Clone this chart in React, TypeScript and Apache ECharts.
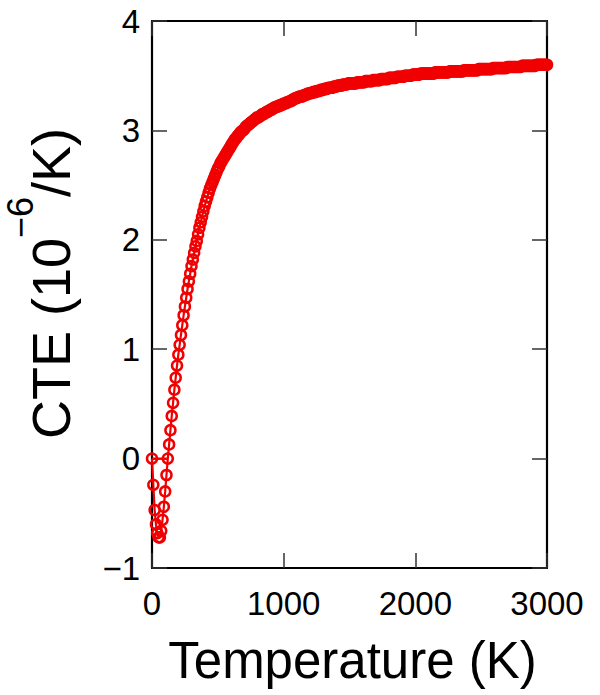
import React, { useEffect, useRef } from "react";
import * as echarts from "echarts";

// Temperature grid (K): one reading every 10 K from 0 to 3000
const tempStart = 0;
const tempStep = 10;

// CTE (10^-6 /K), one value per temperature step
const cteValues: number[] = [
  0.00, -0.24, -0.47, -0.60, -0.68, -0.72, -0.72, -0.66, -0.56, -0.44,
  -0.30, -0.15, 0.00, 0.13, 0.26, 0.39, 0.51, 0.63, 0.74, 0.85,
  0.95, 1.04, 1.13, 1.22, 1.31, 1.39, 1.47, 1.55, 1.62, 1.69,
  1.76, 1.82, 1.88, 1.94, 1.99, 2.05, 2.11, 2.16, 2.21, 2.26,
  2.31, 2.35, 2.39, 2.43, 2.47, 2.50, 2.53, 2.56, 2.59, 2.62,
  2.65, 2.67, 2.70, 2.72, 2.74, 2.76, 2.78, 2.80, 2.82, 2.84,
  2.86, 2.88, 2.90, 2.92, 2.93, 2.95, 2.96, 2.98, 2.99, 3.00,
  3.01, 3.03, 3.04, 3.05, 3.06, 3.07, 3.08, 3.09, 3.10, 3.11,
  3.12, 3.12, 3.13, 3.14, 3.15, 3.15, 3.16, 3.17, 3.17, 3.18,
  3.19, 3.19, 3.20, 3.21, 3.21, 3.22, 3.22, 3.23, 3.23, 3.24,
  3.24, 3.25, 3.25, 3.26, 3.26, 3.27, 3.27, 3.28, 3.29, 3.29,
  3.30, 3.30, 3.31, 3.31, 3.31, 3.32, 3.32, 3.33, 3.33, 3.34,
  3.34, 3.34, 3.35, 3.35, 3.35, 3.36, 3.36, 3.36, 3.37, 3.37,
  3.37, 3.38, 3.38, 3.38, 3.39, 3.39, 3.39, 3.39, 3.40, 3.40,
  3.40, 3.41, 3.41, 3.41, 3.41, 3.42, 3.42, 3.42, 3.42, 3.43,
  3.43, 3.43, 3.43, 3.43, 3.43, 3.43, 3.44, 3.44, 3.44, 3.44,
  3.44, 3.44, 3.45, 3.45, 3.45, 3.45, 3.45, 3.45, 3.46, 3.46,
  3.46, 3.46, 3.46, 3.46, 3.47, 3.47, 3.47, 3.47, 3.47, 3.47,
  3.48, 3.48, 3.48, 3.48, 3.48, 3.48, 3.49, 3.49, 3.49, 3.49,
  3.49, 3.49, 3.50, 3.50, 3.50, 3.50, 3.50, 3.50, 3.51, 3.51,
  3.51, 3.51, 3.51, 3.51, 3.52, 3.52, 3.52, 3.52, 3.52, 3.52,
  3.52, 3.52, 3.52, 3.52, 3.52, 3.53, 3.53, 3.53, 3.53, 3.53,
  3.53, 3.53, 3.53, 3.53, 3.53, 3.53, 3.54, 3.54, 3.54, 3.54,
  3.54, 3.54, 3.54, 3.54, 3.54, 3.54, 3.54, 3.55, 3.55, 3.55,
  3.55, 3.55, 3.55, 3.55, 3.55, 3.55, 3.55, 3.55, 3.56, 3.56,
  3.56, 3.56, 3.56, 3.56, 3.56, 3.56, 3.56, 3.56, 3.56, 3.57,
  3.57, 3.57, 3.57, 3.57, 3.57, 3.57, 3.57, 3.57, 3.57, 3.57,
  3.58, 3.58, 3.58, 3.58, 3.58, 3.58, 3.58, 3.58, 3.58, 3.58,
  3.58, 3.59, 3.59, 3.59, 3.59, 3.59, 3.59, 3.59, 3.59, 3.59,
  3.59, 3.59, 3.60, 3.60, 3.60, 3.60, 3.60, 3.60, 3.60, 3.60,
  3.60,
];

// The short horizontal segment drawn at CTE = 0 near T = 0
const zeroLinkTemps = [0, 120];
const zeroLinkValues = [0, 0];

const xTicks = [0, 1000, 2000, 3000];
const yTicks = [-1, 0, 1, 2, 3, 4];

const FONT = "Liberation Sans, Arial, Helvetica, sans-serif";
const RED = "#f00000";

const fmt = (v: number) => (v < 0 ? "\u2212" + Math.abs(v) : String(v));

export default function App() {
  const ref = useRef<HTMLDivElement>(null);
  useEffect(() => {
    if (!ref.current) return;
    const chart = echarts.init(ref.current, undefined, { renderer: "svg" });
    const mainData = cteValues.map((v, i) => [tempStart + i * tempStep, v]);
    const linkData = zeroLinkTemps.map((t, i) => [t, zeroLinkValues[i]]);

    const tickStyle = { show: true, inside: true, length: 15, lineStyle: { color: "#333", width: 1.5 } };
    const lineStyle = { show: true, onZero: false, lineStyle: { color: "#000", width: 2.2 } };

    chart.setOption({
      animation: false,
      backgroundColor: "#fff",
      grid: { left: 152, right: 53, top: 21, bottom: 127, containLabel: false, outerBoundsMode: "none" },
      xAxis: [
        {
          type: "value",
          position: "bottom",
          min: xTicks[0],
          max: xTicks[xTicks.length - 1],
          interval: 1000,
          axisLine: lineStyle,
          axisTick: tickStyle,
          splitLine: { show: false },
          axisLabel: { margin: 19, fontSize: 33, color: "#000", fontFamily: FONT, formatter: fmt },
          name: "Temperature (K)",
          nameLocation: "middle",
          nameGap: 67,
          nameTextStyle: { fontSize: 51, color: "#000", fontFamily: FONT, padding: [0, 0, 0, 6] },
        },
        {
          type: "value",
          position: "top",
          min: xTicks[0],
          max: xTicks[xTicks.length - 1],
          interval: 1000,
          axisLine: lineStyle,
          axisTick: tickStyle,
          splitLine: { show: false },
          axisLabel: { show: false },
        },
      ],
      yAxis: [
        {
          type: "value",
          position: "left",
          min: yTicks[0],
          max: yTicks[yTicks.length - 1],
          interval: 1,
          axisLine: lineStyle,
          axisTick: tickStyle,
          splitLine: { show: false },
          axisLabel: { margin: 12, fontSize: 33, color: "#000", fontFamily: FONT, formatter: fmt },
          name: "{m|CTE (10}{sup|\u22126}{m|/K)}",
          nameLocation: "middle",
          nameRotate: 90,
          nameGap: 74,
          nameTextStyle: {
            fontSize: 54,
            color: "#000",
            fontFamily: FONT,
            padding: [0, 0, 0, 22],
            rich: {
              m: { fontSize: 54, lineHeight: 54, fontFamily: FONT, color: "#000", verticalAlign: "bottom" },
              sup: { fontSize: 36, lineHeight: 76, fontFamily: FONT, color: "#000", verticalAlign: "top" },
            },
          },
        },
        {
          type: "value",
          position: "right",
          min: yTicks[0],
          max: yTicks[yTicks.length - 1],
          interval: 1,
          axisLine: lineStyle,
          axisTick: tickStyle,
          splitLine: { show: false },
          axisLabel: { show: false },
        },
      ],
      series: [
        {
          type: "line",
          data: linkData,
          xAxisIndex: 0,
          yAxisIndex: 0,
          showSymbol: false,
          symbol: "none",
          lineStyle: { color: RED, width: 2.2 },
          clip: false,
          z: 2,
        },
        {
          type: "line",
          data: mainData,
          xAxisIndex: 0,
          yAxisIndex: 0,
          symbol: "circle",
          symbolSize: 10,
          showAllSymbol: true,
          lineStyle: { color: RED, width: 2.2 },
          itemStyle: { color: "rgba(0,0,0,0)", borderColor: RED, borderWidth: 2.5 },
          clip: false,
          z: 3,
        },
      ],
    });
    return () => chart.dispose();
  }, []);
  return <div ref={ref} style={{ position: "fixed", left: 0, top: 0, width: 600, height: 695 }} />;
}
